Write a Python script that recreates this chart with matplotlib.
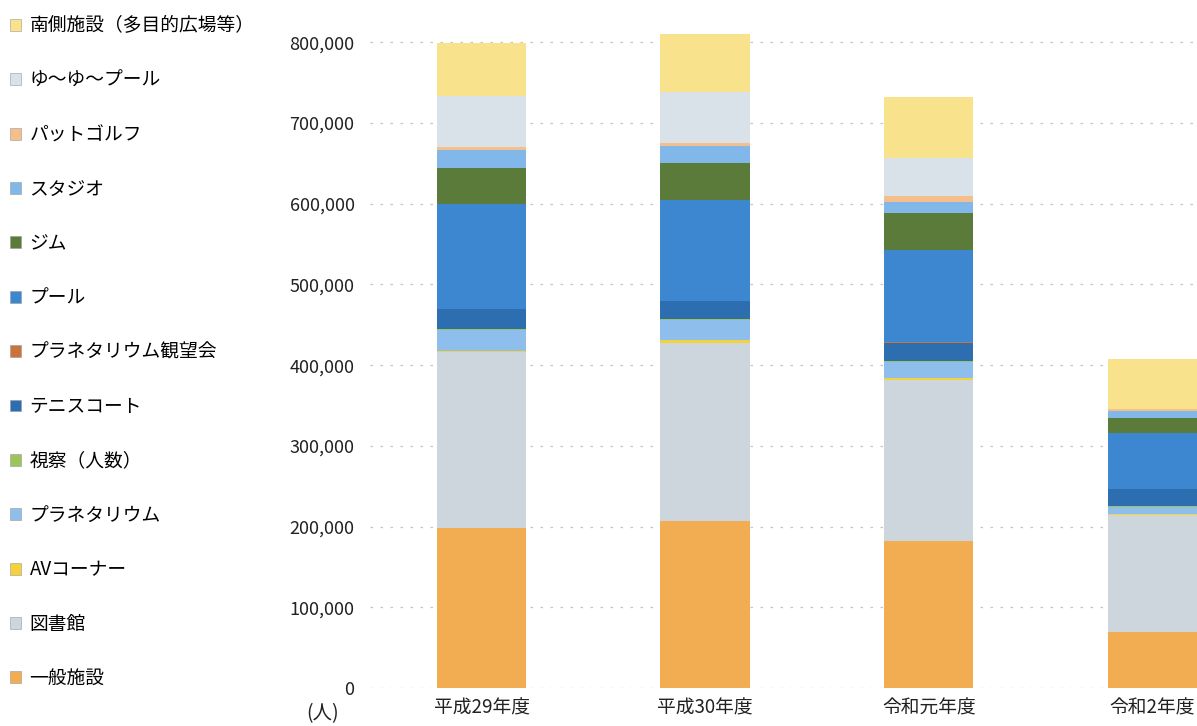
import matplotlib
matplotlib.use('Agg')
import matplotlib.pyplot as plt
from matplotlib.patches import Patch
from matplotlib.ticker import FuncFormatter
import numpy as np

plt.rcParams['font.family'] = ['Noto Sans CJK JP', 'DejaVu Sans']

# fiscal years
years = ['平成29年度', '平成30年度', '令和元年度', '令和2年度']

# series, bottom of the stack first (values in persons)
series_names = ['一般施設', '図書館', 'AVコーナー', 'プラネタリウム', '視察（人数）',
                'テニスコート', 'プラネタリウム観望会', 'プール', 'ジム', 'スタジオ',
                'パットゴルフ', 'ゆ～ゆ～プール', '南側施設（多目的広場等）']

ippan = [198000, 207000, 182000, 69000]
toshokan = [218000, 221000, 199000, 145500]
av_corner = [2000, 3000, 3000, 1000]
planetarium = [26000, 25000, 20000, 9000]
shisatsu = [1000, 1000, 1000, 500]
tennis = [24000, 22000, 23000, 21000]
kanbokai = [1000, 1000, 1000, 500]
pool = [130000, 124000, 114000, 70000]
gym = [44500, 47000, 45000, 18600]
studio = [22000, 20000, 14000, 8000]
putt_golf = [4000, 4000, 7000, 2000]
yuyu_pool = [63500, 63000, 47000, 1000]
minamigawa = [65000, 72000, 76000, 62000]

colors = ['#F2AD52', '#CDD6DD', '#F4D23E', '#8DBEEC', '#9CC45A',
          '#2C6EAF', '#C8743A', '#3D87D0', '#5B7B3A', '#82B7EA',
          '#F4BF8C', '#D8E2E8', '#F8E38C']

data = [ippan, toshokan, av_corner, planetarium, shisatsu, tennis, kanbokai,
        pool, gym, studio, putt_golf, yuyu_pool, minamigawa]

fig = plt.figure(figsize=(11.97, 7.26), dpi=100)
ax = fig.add_axes([0.309, 0.0523, 0.691, 0.934])

x = np.arange(len(years))
bottom = np.zeros(len(years))
for name, vals, c in zip(series_names, data, colors):
    ax.bar(x, vals, width=0.4, bottom=bottom, color=c, label=name, zorder=3)
    bottom += np.array(vals)

ax.set_xlim(-0.5, 3.2)
ax.set_ylim(0, 840000)
ax.set_yticks(np.arange(0, 800001, 100000))
ax.yaxis.set_major_formatter(FuncFormatter(lambda v, p: f'{int(v):,}'))
ax.set_xticks(x)
ax.set_xticklabels(years, fontsize=13.5)
ax.tick_params(axis='both', length=0, colors='#222222')
ax.tick_params(axis='y', pad=11, labelsize=13)
ax.tick_params(axis='x', pad=7)
ax.yaxis.grid(True, color='#c4c4c4', linestyle=(0, (2, 6)), linewidth=0.9, zorder=0)
for s in ax.spines.values():
    s.set_visible(False)

fig.text(0.256, 0.002, '(人)', fontsize=14, color='#222222', va='bottom')

# legend, top of the stack first
handles = [Patch(facecolor=c, edgecolor='#999999', linewidth=0.4) for c in colors][::-1]
fig.legend(handles, series_names[::-1], loc='upper left', bbox_to_anchor=(0.002, 0.989),
           frameon=False, fontsize=13.5, labelspacing=1.78, handlelength=0.6,
           handleheight=0.6, handletextpad=0.45, borderaxespad=0)

fig.savefig('out.png', dpi=100)
